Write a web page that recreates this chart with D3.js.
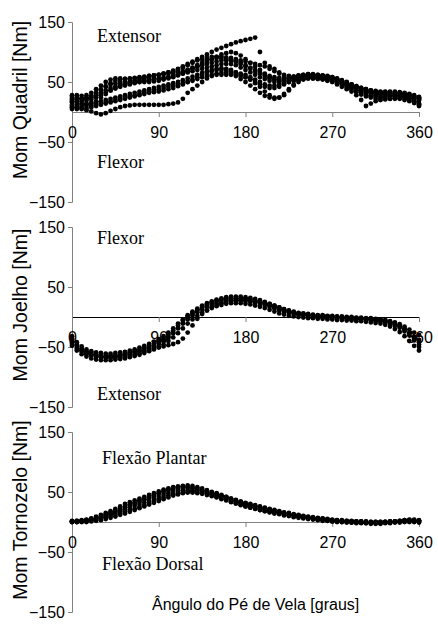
<!DOCTYPE html>
<html>
<head>
<meta charset="utf-8">
<script src="https://cdn.jsdelivr.net/npm/d3@7"></script>
<style>
  body { margin: 0; background: #fff; }
  svg { display: block; }
</style>
</head>
<body>
<svg></svg>
<script>
let width = 438, height = 624;

let svg = d3.select("svg")
    .attr("width", width)
    .attr("height", height)
    .attr("viewBox", "0 0 " + width + " " + height);

// sample angles (graus)
const angles = [0, 5, 10, 15, 20, 25, 30, 35, 40, 45, 50, 55, 60, 65, 70, 75, 80, 85, 90, 95,
    100, 105, 110, 115, 120, 125, 130, 135, 140, 145, 150, 155, 160, 165, 170, 175, 180, 185, 190, 195,
    200, 205, 210, 215, 220, 225, 230, 235, 240, 245, 250, 255, 260, 265, 270, 275, 280, 285, 290, 295,
    300, 305, 310, 315, 320, 325, 330, 335, 340, 345, 350, 355, 360];

const xTicks = [0, 90, 180, 270, 360];
const yTicks = [150, 50, -50, -150];

// Mom Quadril [Nm], one array per trial
const hip = [
    [20, 21, 22, 24, 27, 32, 38, 43, 48, 52, 54, 55, 56, 57, 58, 59, 60, 61, 62, 64, 66, 69, 72, 76, 80, 84, 88, 92, 96, 100, 104, 107, 110, 113, 116, 118, 120, 122, 124, 100, 82, 76, 72, 66, 62, 60, 59, 60, 61, 62, 62, 61, 60, 59, 58, 55, 52, 49, 46, 43, 40, 38, 36, 34, 32, 31, 30, 30, 30, 29, 28, 26, 24],
    [10, 8, 6, 3, 1, -2, -4, -2, 2, 5, 8, 10, 11, 12, 12, 12, 12, 12, 12, 12, 13, 14, 16, 22, 32, 38, 44, 50, 56, 60, 62, 62, 62, 62, 62, 60, 58, 54, 48, 42, 34, 28, 24, 24, 28, 36, 44, 50, 54, 56, 56, 55, 54, 52, 50, 46, 42, 38, 34, 28, 20, 10, 14, 18, 20, 22, 22, 22, 22, 20, 18, 15, 12],
    [28, 28, 27, 28, 32, 38, 44, 50, 54, 56, 56, 55, 55, 56, 57, 58, 60, 61, 62, 64, 66, 68, 71, 74, 78, 82, 86, 88, 90, 92, 92, 92, 91, 90, 88, 86, 84, 82, 80, 78, 76, 72, 68, 64, 60, 58, 58, 59, 60, 62, 62, 62, 61, 60, 58, 56, 53, 50, 46, 43, 40, 38, 36, 35, 34, 34, 34, 34, 33, 32, 30, 28, 25],
    [18, 18, 18, 19, 21, 24, 28, 32, 36, 39, 42, 44, 46, 48, 50, 52, 54, 55, 56, 57, 58, 60, 62, 64, 66, 68, 70, 72, 74, 76, 78, 80, 80, 80, 78, 74, 70, 66, 62, 58, 55, 52, 50, 50, 51, 53, 55, 57, 58, 59, 59, 58, 57, 56, 54, 52, 49, 46, 43, 40, 37, 34, 32, 30, 29, 28, 28, 28, 27, 26, 24, 22, 20],
    [12, 12, 12, 13, 14, 16, 18, 20, 22, 24, 26, 28, 30, 32, 34, 36, 38, 40, 42, 44, 46, 48, 50, 53, 56, 59, 62, 65, 68, 70, 72, 73, 72, 70, 66, 62, 58, 54, 50, 46, 42, 40, 40, 42, 46, 50, 53, 55, 56, 57, 57, 56, 55, 54, 52, 50, 47, 44, 40, 36, 32, 28, 26, 25, 24, 24, 25, 25, 25, 24, 22, 18, 14],
    [22, 22, 22, 23, 25, 28, 32, 36, 40, 43, 46, 48, 50, 52, 54, 56, 58, 60, 62, 63, 64, 65, 66, 68, 70, 73, 76, 80, 84, 88, 92, 96, 98, 100, 98, 94, 88, 82, 76, 70, 64, 60, 58, 57, 56, 56, 57, 58, 59, 60, 60, 60, 59, 58, 57, 55, 52, 48, 44, 40, 36, 33, 31, 30, 30, 29, 28, 28, 28, 27, 26, 23, 20],
    [8, 8, 9, 10, 11, 12, 14, 16, 18, 20, 22, 24, 26, 28, 30, 32, 34, 36, 38, 40, 42, 44, 46, 48, 50, 52, 55, 58, 60, 62, 64, 65, 66, 64, 60, 55, 50, 44, 38, 32, 27, 24, 22, 24, 30, 38, 46, 52, 56, 58, 58, 58, 57, 56, 55, 52, 48, 44, 40, 36, 32, 30, 28, 27, 26, 26, 26, 26, 26, 25, 22, 18, 10],
    [16, 15, 14, 14, 15, 18, 24, 30, 36, 40, 44, 46, 48, 50, 50, 50, 50, 51, 52, 54, 56, 58, 61, 64, 68, 72, 76, 78, 80, 82, 84, 86, 86, 86, 84, 82, 78, 74, 70, 66, 62, 58, 54, 52, 52, 54, 57, 60, 62, 63, 63, 62, 60, 58, 56, 53, 50, 47, 44, 41, 38, 35, 33, 32, 32, 32, 31, 31, 30, 29, 27, 24, 22],
    [25, 24, 22, 22, 24, 30, 36, 42, 46, 48, 50, 50, 50, 50, 51, 52, 53, 54, 55, 56, 58, 60, 63, 66, 70, 74, 78, 82, 86, 88, 90, 90, 88, 86, 84, 80, 76, 72, 68, 64, 60, 56, 54, 54, 55, 57, 59, 61, 62, 63, 62, 61, 60, 58, 56, 54, 51, 48, 45, 42, 39, 36, 34, 33, 33, 33, 33, 32, 32, 31, 29, 26, 23],
    [5, 5, 5, 6, 8, 10, 12, 14, 16, 18, 20, 22, 24, 26, 28, 30, 32, 33, 34, 36, 38, 40, 43, 46, 50, 54, 58, 62, 66, 68, 70, 70, 70, 68, 66, 64, 62, 58, 54, 50, 46, 44, 44, 46, 48, 50, 52, 54, 55, 56, 56, 56, 55, 53, 51, 48, 45, 41, 37, 33, 29, 26, 24, 22, 21, 21, 22, 23, 23, 22, 20, 16, 12]
];

// Mom Joelho [Nm]
const knee = [
    [-32, -42, -49, -54, -57, -59, -60, -61, -61, -60, -59, -58, -56, -54, -51, -48, -45, -41, -37, -32, -26, -19, -11, -4, 3, 9, 14, 19, 23, 26, 29, 31, 33, 34, 34, 34, 33, 32, 30, 28, 25, 22, 19, 16, 13, 11, 9, 7, 6, 5, 4, 3, 3, 2, 2, 1, 1, 0, 0, -1, -1, -2, -2, -3, -4, -5, -7, -9, -12, -16, -21, -26, -30],
    [-42, -50, -56, -60, -63, -65, -66, -67, -67, -66, -65, -64, -62, -60, -58, -55, -52, -49, -45, -40, -34, -27, -19, -11, -4, 2, 8, 13, 17, 20, 23, 25, 27, 28, 28, 28, 27, 26, 24, 22, 20, 17, 14, 11, 9, 7, 5, 4, 3, 2, 1, 0, 0, -1, -1, -2, -2, -3, -3, -4, -4, -5, -5, -6, -7, -9, -11, -14, -18, -24, -31, -39, -46],
    [-48, -56, -62, -66, -69, -71, -72, -72, -72, -71, -70, -69, -67, -65, -63, -60, -57, -54, -50, -46, -40, -34, -27, -19, -11, -4, 2, 7, 11, 15, 18, 20, 22, 23, 23, 23, 22, 21, 19, 17, 15, 12, 9, 6, 4, 2, 1, 0, -1, -2, -2, -3, -3, -4, -4, -5, -5, -6, -6, -7, -7, -8, -9, -10, -11, -13, -16, -20, -25, -32, -40, -48, -56],
    [-38, -47, -54, -59, -62, -64, -66, -67, -68, -68, -67, -66, -65, -63, -61, -58, -56, -53, -51, -49, -47, -45, -42, -36, -26, -14, -3, 5, 11, 16, 20, 23, 25, 26, 27, 27, 27, 26, 25, 24, 22, 20, 17, 14, 11, 9, 7, 5, 4, 3, 2, 1, 1, 0, 0, -1, -1, -2, -2, -3, -3, -4, -4, -5, -6, -7, -9, -12, -16, -21, -28, -35, -42],
    [-45, -53, -58, -62, -64, -66, -67, -67, -66, -65, -63, -61, -59, -57, -54, -51, -48, -44, -40, -35, -29, -22, -14, -6, 1, 7, 12, 17, 21, 24, 27, 29, 30, 31, 31, 30, 30, 29, 27, 26, 24, 22, 19, 16, 13, 10, 8, 6, 5, 4, 3, 2, 1, 1, 0, 0, -1, -1, -2, -2, -3, -3, -4, -4, -5, -6, -8, -11, -15, -20, -27, -36, -50],
    [-36, -46, -53, -57, -60, -62, -63, -64, -64, -64, -63, -62, -60, -58, -56, -53, -50, -47, -43, -38, -33, -26, -18, -10, -2, 5, 11, 16, 20, 24, 27, 29, 30, 31, 31, 31, 30, 29, 27, 25, 22, 19, 16, 13, 10, 8, 7, 5, 4, 3, 2, 2, 1, 1, 0, 0, -1, -1, -2, -2, -3, -3, -4, -5, -5, -7, -9, -12, -15, -20, -26, -33, -38]
];

// Mom Tornozelo [Nm]
const ankle = [
    [1, 2, 3, 4, 6, 9, 12, 15, 18, 22, 26, 30, 33, 36, 39, 42, 45, 48, 51, 54, 56, 58, 59, 59, 58, 57, 55, 53, 51, 49, 47, 44, 42, 39, 37, 34, 32, 30, 28, 26, 24, 22, 20, 18, 16, 15, 13, 12, 10, 9, 8, 7, 6, 5, 4, 3, 3, 2, 2, 1, 1, 1, 0, 0, 0, 0, 1, 1, 2, 3, 4, 4, 3],
    [1, 1, 1, 2, 3, 5, 7, 9, 12, 15, 18, 21, 24, 27, 30, 33, 36, 39, 42, 45, 48, 50, 52, 53, 53, 53, 52, 50, 48, 46, 44, 42, 40, 37, 34, 32, 29, 27, 25, 23, 21, 19, 17, 15, 14, 12, 11, 9, 8, 7, 6, 5, 4, 3, 2, 2, 1, 1, 0, 0, 0, -1, -1, -1, -1, -1, 0, 0, 1, 1, 2, 2, 1],
    [0, 0, 0, 0, 1, 2, 3, 5, 7, 9, 12, 14, 17, 20, 23, 26, 29, 32, 35, 38, 41, 44, 46, 48, 49, 50, 50, 49, 47, 45, 42, 40, 37, 34, 31, 29, 26, 24, 22, 20, 18, 16, 14, 13, 11, 10, 8, 7, 6, 5, 4, 3, 2, 2, 1, 0, 0, -1, -1, -2, -2, -2, -3, -3, -3, -2, -2, -1, -1, 0, 0, 0, -1],
    [2, 2, 2, 3, 4, 6, 8, 11, 14, 17, 20, 24, 28, 31, 35, 38, 42, 45, 48, 51, 54, 57, 59, 60, 61, 60, 58, 56, 53, 50, 48, 45, 42, 39, 36, 34, 31, 29, 27, 25, 23, 21, 19, 17, 15, 14, 12, 11, 9, 8, 7, 6, 5, 4, 3, 3, 2, 2, 1, 1, 1, 0, 0, 0, 0, 0, 1, 1, 2, 3, 3, 2, 2],
    [0, 0, 1, 2, 3, 4, 6, 8, 10, 12, 15, 17, 20, 22, 25, 28, 31, 34, 38, 41, 44, 46, 48, 49, 50, 49, 48, 47, 45, 43, 41, 38, 36, 33, 31, 28, 26, 24, 22, 20, 18, 17, 15, 14, 12, 11, 10, 9, 7, 6, 5, 4, 3, 2, 1, 1, 0, 0, -1, -1, -1, -2, -2, -2, -2, -1, -1, 0, 0, 1, 1, 1, 0],
    [1, 1, 2, 3, 5, 7, 10, 13, 16, 19, 22, 25, 29, 32, 35, 38, 41, 44, 47, 50, 52, 54, 56, 57, 57, 56, 55, 53, 51, 48, 46, 43, 41, 38, 36, 33, 31, 28, 26, 24, 22, 20, 18, 17, 15, 13, 12, 10, 9, 8, 7, 6, 5, 4, 3, 2, 2, 1, 1, 0, 0, 0, -1, -1, -1, 0, 0, 1, 1, 2, 3, 3, 2]
];

const panels = [
    { title: "Mom Quadril [Nm]", trials: hip, top: 22, zeroColor: "#808080",
      notes: [["Extensor", 97, 42], ["Flexor", 97, 168]] },
    { title: "Mom Joelho [Nm]", trials: knee, top: 227, zeroColor: "#000",
      notes: [["Flexor", 97, 244], ["Extensor", 97, 400]] },
    { title: "Mom Tornozelo [Nm]", trials: ankle, top: 432, zeroColor: "#808080",
      notes: [["Flexão Plantar", 102, 464], ["Flexão Dorsal", 102, 570]] }
];

let x = d3.scaleLinear().domain([0, 360]).range([72, 419]);

panels.forEach(p => {
    let y = d3.scaleLinear().domain([150, -150]).range([p.top, p.top + 180]);
    let g = svg.append("g");

    // y axis
    let yAxis = g.append("g")
        .attr("transform", "translate(72,0)")
        .call(d3.axisLeft(y).tickValues(yTicks).tickSize(4).tickPadding(3));
    yAxis.select(".domain").attr("stroke", "#808080");
    yAxis.selectAll(".tick line").attr("stroke", "#808080");
    yAxis.selectAll("text")
        .attr("font-family", "Liberation Sans, Arial, sans-serif")
        .attr("font-size", 16)
        .attr("fill", "#000");

    // x axis at zero
    let xAxis = g.append("g")
        .attr("transform", "translate(0," + y(0) + ")")
        .call(d3.axisBottom(x).tickValues(xTicks).tickSize(5).tickSizeOuter(0).tickPadding(10));
    xAxis.select(".domain").attr("stroke", p.zeroColor);
    xAxis.selectAll(".tick line").attr("stroke", "#808080");
    xAxis.selectAll("text")
        .attr("font-family", "Liberation Sans, Arial, sans-serif")
        .attr("font-size", 16)
        .attr("fill", "#000");

    // y title
    g.append("text")
        .attr("transform", "translate(27," + (p.top + 78) + ") rotate(-90)")
        .attr("text-anchor", "middle")
        .attr("font-family", "Liberation Sans, Arial, sans-serif")
        .attr("font-size", 19.5)
        .text(p.title);

    // annotations
    g.selectAll(".note")
        .data(p.notes)
        .enter()
        .append("text")
        .attr("x", d => d[1])
        .attr("y", d => d[2])
        .attr("font-family", "Liberation Serif, Times New Roman, serif")
        .attr("font-size", 18)
        .text(d => d[0]);

    // dots
    p.trials.forEach(trial => {
        g.append("g")
            .selectAll("circle")
            .data(trial)
            .enter()
            .append("circle")
            .attr("cx", (d, i) => x(angles[i]))
            .attr("cy", d => y(d))
            .attr("r", 2.4)
            .attr("fill", "#000");
    });
});

svg.append("text")
    .attr("x", 152)
    .attr("y", 610)
    .attr("font-family", "Liberation Sans, Arial, sans-serif")
    .attr("font-size", 16)
    .text("Ângulo do Pé de Vela [graus]");
</script>
</body>
</html>
